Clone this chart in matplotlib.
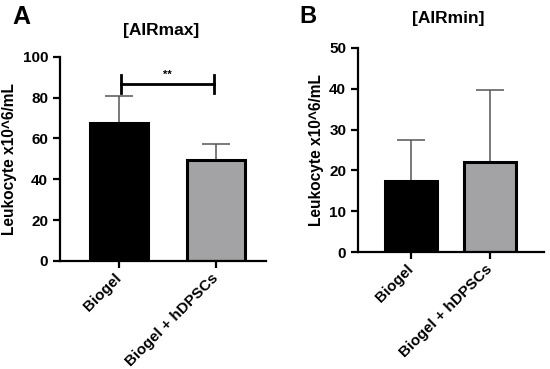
import matplotlib
matplotlib.use('Agg')
import matplotlib.pyplot as plt

plt.rcParams['font.family'] = ['Liberation Sans', 'DejaVu Sans']
plt.rcParams['font.weight'] = 'bold'

groups = ['Biogel', 'Biogel + hDPSCs']
colors = ['#000000', '#a3a3a5']

max_means = [67.5, 49.5]
max_err = [13.5, 8.0]
min_means = [17.5, 22.0]
min_err = [10.0, 17.8]

sig_y = 86.8
sig_drop = 4.3
sig_label = '**'


def draw_panel(ax, means, errs, ymax, yticks, title, xlim, width, title_pos):
    x = list(range(len(groups)))
    ax.bar(x, means, width=width, color=colors, edgecolor='black', linewidth=2.2, zorder=2)
    ax.errorbar(x, means, yerr=[[0] * len(errs), errs], fmt='none', ecolor='#555555',
                elinewidth=1.1, capsize=10, capthick=1.1, zorder=1)
    ax.set_ylim(0, ymax)
    ax.set_xlim(*xlim)
    ax.set_yticks(yticks)
    ax.set_xticks(x)
    ax.set_xticklabels(groups, rotation=45, ha='right', va='center', rotation_mode='anchor',
                       fontsize=9.2, fontweight='bold')
    ax.set_ylabel('Leukocyte x10^6/mL', fontsize=11.2, fontweight='bold')
    for s in ['top', 'right']:
        ax.spines[s].set_visible(False)
    for s in ['left', 'bottom']:
        ax.spines[s].set_linewidth(1.6)
    ax.tick_params(width=1.6, length=5, labelsize=11)
    ax.tick_params(axis='x', pad=6)
    for lab in ax.get_yticklabels():
        lab.set_fontweight('bold')
    ax.text(title_pos[0], title_pos[1], title, transform=ax.transAxes, ha='center', va='center',
            fontsize=12.5, fontweight='bold')
    return ax


fig = plt.figure(figsize=(5.5, 3.69), dpi=100)
ax1 = fig.add_axes([0.109, 0.293, 0.375, 0.553])
ax2 = fig.add_axes([0.651, 0.317, 0.338, 0.553])

draw_panel(ax1, max_means, max_err, 100, [0, 20, 40, 60, 80, 100], '[AIRmax]',
           (-0.608, 1.515), 0.6, (0.49, 1.13))
draw_panel(ax2, min_means, min_err, 50, [0, 10, 20, 30, 40, 50], '[AIRmin]',
           (-0.67, 1.68), 0.66, (0.487, 1.145))

# significance bracket
ax1.plot([0.02, 0.98], [sig_y, sig_y], color='black', lw=2, clip_on=False)
ax1.plot([0.02, 0.02], [sig_y - sig_drop, sig_y + sig_drop], color='black', lw=2, clip_on=False)
ax1.plot([0.98, 0.98], [sig_y - sig_drop, sig_y + sig_drop], color='black', lw=2, clip_on=False)
ax1.text(0.5, sig_y + 2, sig_label, ha='center', va='bottom', fontsize=8, fontweight='bold')

fig.text(0.022, 0.953, 'A', fontsize=18, fontweight='bold', ha='left', va='center')
fig.text(0.545, 0.955, 'B', fontsize=17, fontweight='bold', ha='left', va='center')

plt.savefig('out.png', dpi=100)
plt.close()
